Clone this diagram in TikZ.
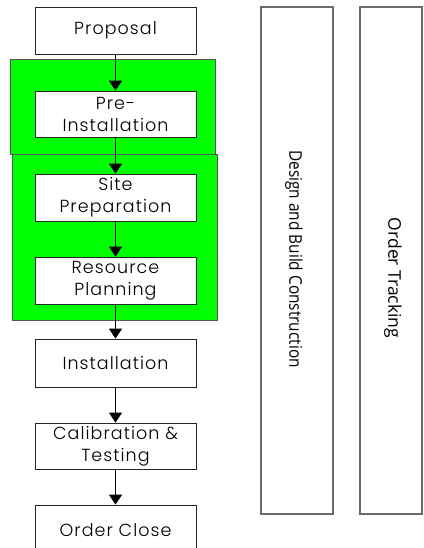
\documentclass[tikz,border=0pt]{standalone}
\usepackage{fontspec}
\setmainfont{Poppins}[UprightFont=* Light]
\newfontfamily\sidefont{Open Sans}
\usetikzlibrary{arrows.meta}
\definecolor{phasegreen}{HTML}{00FF00}
\definecolor{edgegray}{HTML}{555555}
\definecolor{lanegray}{HTML}{6A6A6A}
\tikzset{
  stepbox/.style={draw=black!85, line width=0.8pt, fill=white, inner sep=0pt,
    minimum width=161pt, align=center, font=\fontsize{17.5}{22}\selectfont\addfontfeature{LetterSpace=6}},
  phase/.style={draw=edgegray, line width=0.8pt, fill=phasegreen},
  lane/.style={draw=lanegray, line width=1.2pt, fill=white},
  flow/.style={draw=black, line width=0.9pt, -{Triangle[width=13pt,length=10pt]}},
  lanelabel/.style={font=\sidefont\fontsize{17.5}{20}\selectfont, rotate=-90}
}
\begin{document}
\begin{tikzpicture}[x=1pt, y=-1pt]
  \useasboundingbox (0,0) rectangle (423,548);
  % green phase groups
  \draw[phase] (10,59) rectangle (215,154);
  \draw[phase] (12,154) rectangle (217,320);
  % process steps
  \node[stepbox, minimum height=47pt] (prop) at (115.5,30.5) {Proposal};
  \node[stepbox, minimum height=46pt] (pre) at (115.5,114) {Pre-\\Installation};
  \node[stepbox, minimum height=47pt] (site) at (115.5,197.5) {Site\\Preparation};
  \node[stepbox, minimum height=47pt] (res) at (115.5,280.5) {Resource\\Planning};
  \node[stepbox, minimum height=48pt] (inst) at (115.5,363) {Installation};
  \node[stepbox, minimum height=46pt] (cal) at (115.5,446) {Calibration \&\\Testing};
  \node[stepbox, minimum height=50pt] (close) at (115.5,530) {Order Close};
  % connectors
  \draw[flow] (prop) -- (pre);
  \draw[flow] (pre) -- (site);
  \draw[flow] (site) -- (res);
  \draw[flow] (res) -- (inst);
  \draw[flow] (inst) -- (cal);
  \draw[flow] (cal) -- (close);
  % side lanes
  \draw[lane] (261,7) rectangle (333,514);
  \draw[lane] (360,7) rectangle (422,514);
  \node[lanelabel] (dbc) at (294,259) {\scalebox{0.88}[1]{Design and Build Construction}};
  \node[lanelabel] (ot) at (393,278) {Order Tracking};
\end{tikzpicture}
\end{document}
